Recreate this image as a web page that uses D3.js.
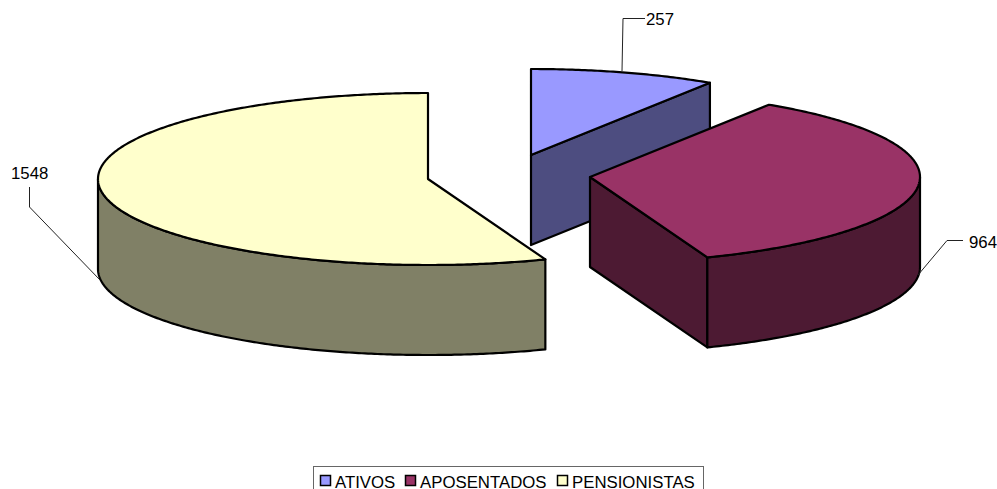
<!DOCTYPE html>
<html>
<head>
<meta charset="utf-8">
<script src="https://cdn.jsdelivr.net/npm/d3@7"></script>
<style>
  html, body { margin: 0; padding: 0; background: #fff; overflow: hidden; }
  text { font-family: "Liberation Sans", Arial, sans-serif; font-size: 16.8px; fill: #000; }
</style>
</head>
<body>
<div id="chart"></div>
<script>
const categories = ["ATIVOS", "APOSENTADOS", "PENSIONISTAS"];
const values = [257, 964, 1548];
const topColors = ["#9999ff", "#993366", "#ffffcc"];
const sideColors = ["#4d4d80", "#4d1a33", "#808066"];

const width = 997;
const height = 489;
const radiusX = 330;
const radiusY = 86;
const depth = 90;
// the source has a little perspective, angles are squeezed near the sides
const foreshorten = 0.011;

// apex of each slice, the pie is exploded
const centers = [[531, 155], [590, 177], [428, 179]];
// leader lines go from the slice edge to the label
const labelAnchors = [[622, 71], [918, 275], [100, 280]];
const labelElbows = [[623, 18.5], [947, 240.5], [29.5, 207]];
const labelEnds = [[645, 18.5], [963, 240.5], [29.5, 187]];
const labelPos = [[646, 25], [969, 248], [11, 179]];

const svg = d3.select("#chart").append("svg")
  .attr("width", width)
  .attr("height", height)
  .style("display", "block");

const pie = d3.pie().sort(null).value(d => d)(values);
const line = d3.line();

function projector(center) {
  const x = d3.scaleLinear().domain([-1, 1]).range([center[0] - radiusX, center[0] + radiusX]);
  const y = d3.scaleLinear().domain([-1, 1]).range([center[1] - radiusY, center[1] + radiusY]);
  return (a, dz = 0) => {
    const b = a - foreshorten * Math.sin(2 * a);
    return [x(Math.sin(b)), y(-Math.cos(b)) + dz];
  };
}

function arcPoints(proj, a0, a1, dz) {
  const n = Math.max(2, Math.ceil(Math.abs(a1 - a0) / 0.01));
  return d3.range(n + 1).map(i => proj(a0 + (a1 - a0) * i / n, dz));
}

const g = svg.append("g")
  .attr("stroke", "#000")
  .attr("stroke-width", 2.2)
  .attr("stroke-linejoin", "round");

pie.forEach((s, i) => {
  const center = centers[i];
  const proj = projector(center);
  const bottomApex = [center[0], center[1] + depth];

  // cut face at the end of the slice, seen when it turns toward the viewer
  if (Math.sin(s.endAngle) > 0) {
    g.append("path").attr("fill", sideColors[i])
      .attr("d", line([center, proj(s.endAngle), proj(s.endAngle, depth), bottomApex]) + "Z");
  }

  // outer wall, only the front half of the ellipse
  const a0 = Math.max(s.startAngle, Math.PI / 2);
  const a1 = Math.min(s.endAngle, Math.PI * 1.5);
  if (a1 > a0) {
    const upper = arcPoints(proj, a0, a1, 0);
    const lower = arcPoints(proj, a1, a0, depth);
    g.append("path").attr("fill", sideColors[i])
      .attr("d", line(upper.concat(lower)) + "Z");
  }

  // top of the slice
  const rim = arcPoints(proj, s.startAngle, s.endAngle, 0);
  g.append("path").attr("fill", topColors[i])
    .attr("d", line([center].concat(rim)) + "Z");
});

// value labels with leader lines
values.forEach((v, i) => {
  svg.append("path")
    .attr("fill", "none")
    .attr("stroke", "#222")
    .attr("stroke-width", 1)
    .attr("d", line([labelAnchors[i], labelElbows[i], labelEnds[i]]));
  svg.append("text")
    .attr("x", labelPos[i][0])
    .attr("y", labelPos[i][1])
    .text(v);
});

// legend, cut by the bottom of the picture as in the source
const legendLeft = 313;
const legendRight = 703;
const legendTop = 466.5;
const legendSwatchX = [320, 405, 557];
const legendTextX = [335, 420, 572];

svg.append("rect")
  .attr("x", legendLeft + 0.5)
  .attr("y", legendTop)
  .attr("width", legendRight - legendLeft)
  .attr("height", 40)
  .attr("fill", "#fff")
  .attr("stroke", "#666")
  .attr("stroke-width", 1);

categories.forEach((c, i) => {
  svg.append("rect")
    .attr("x", legendSwatchX[i] + 0.5)
    .attr("y", 475.5)
    .attr("width", 10)
    .attr("height", 10)
    .attr("fill", topColors[i])
    .attr("stroke", "#000")
    .attr("stroke-width", 1.5);
  svg.append("text")
    .attr("x", legendTextX[i])
    .attr("y", 488)
    .text(c);
});
</script>
</body>
</html>
